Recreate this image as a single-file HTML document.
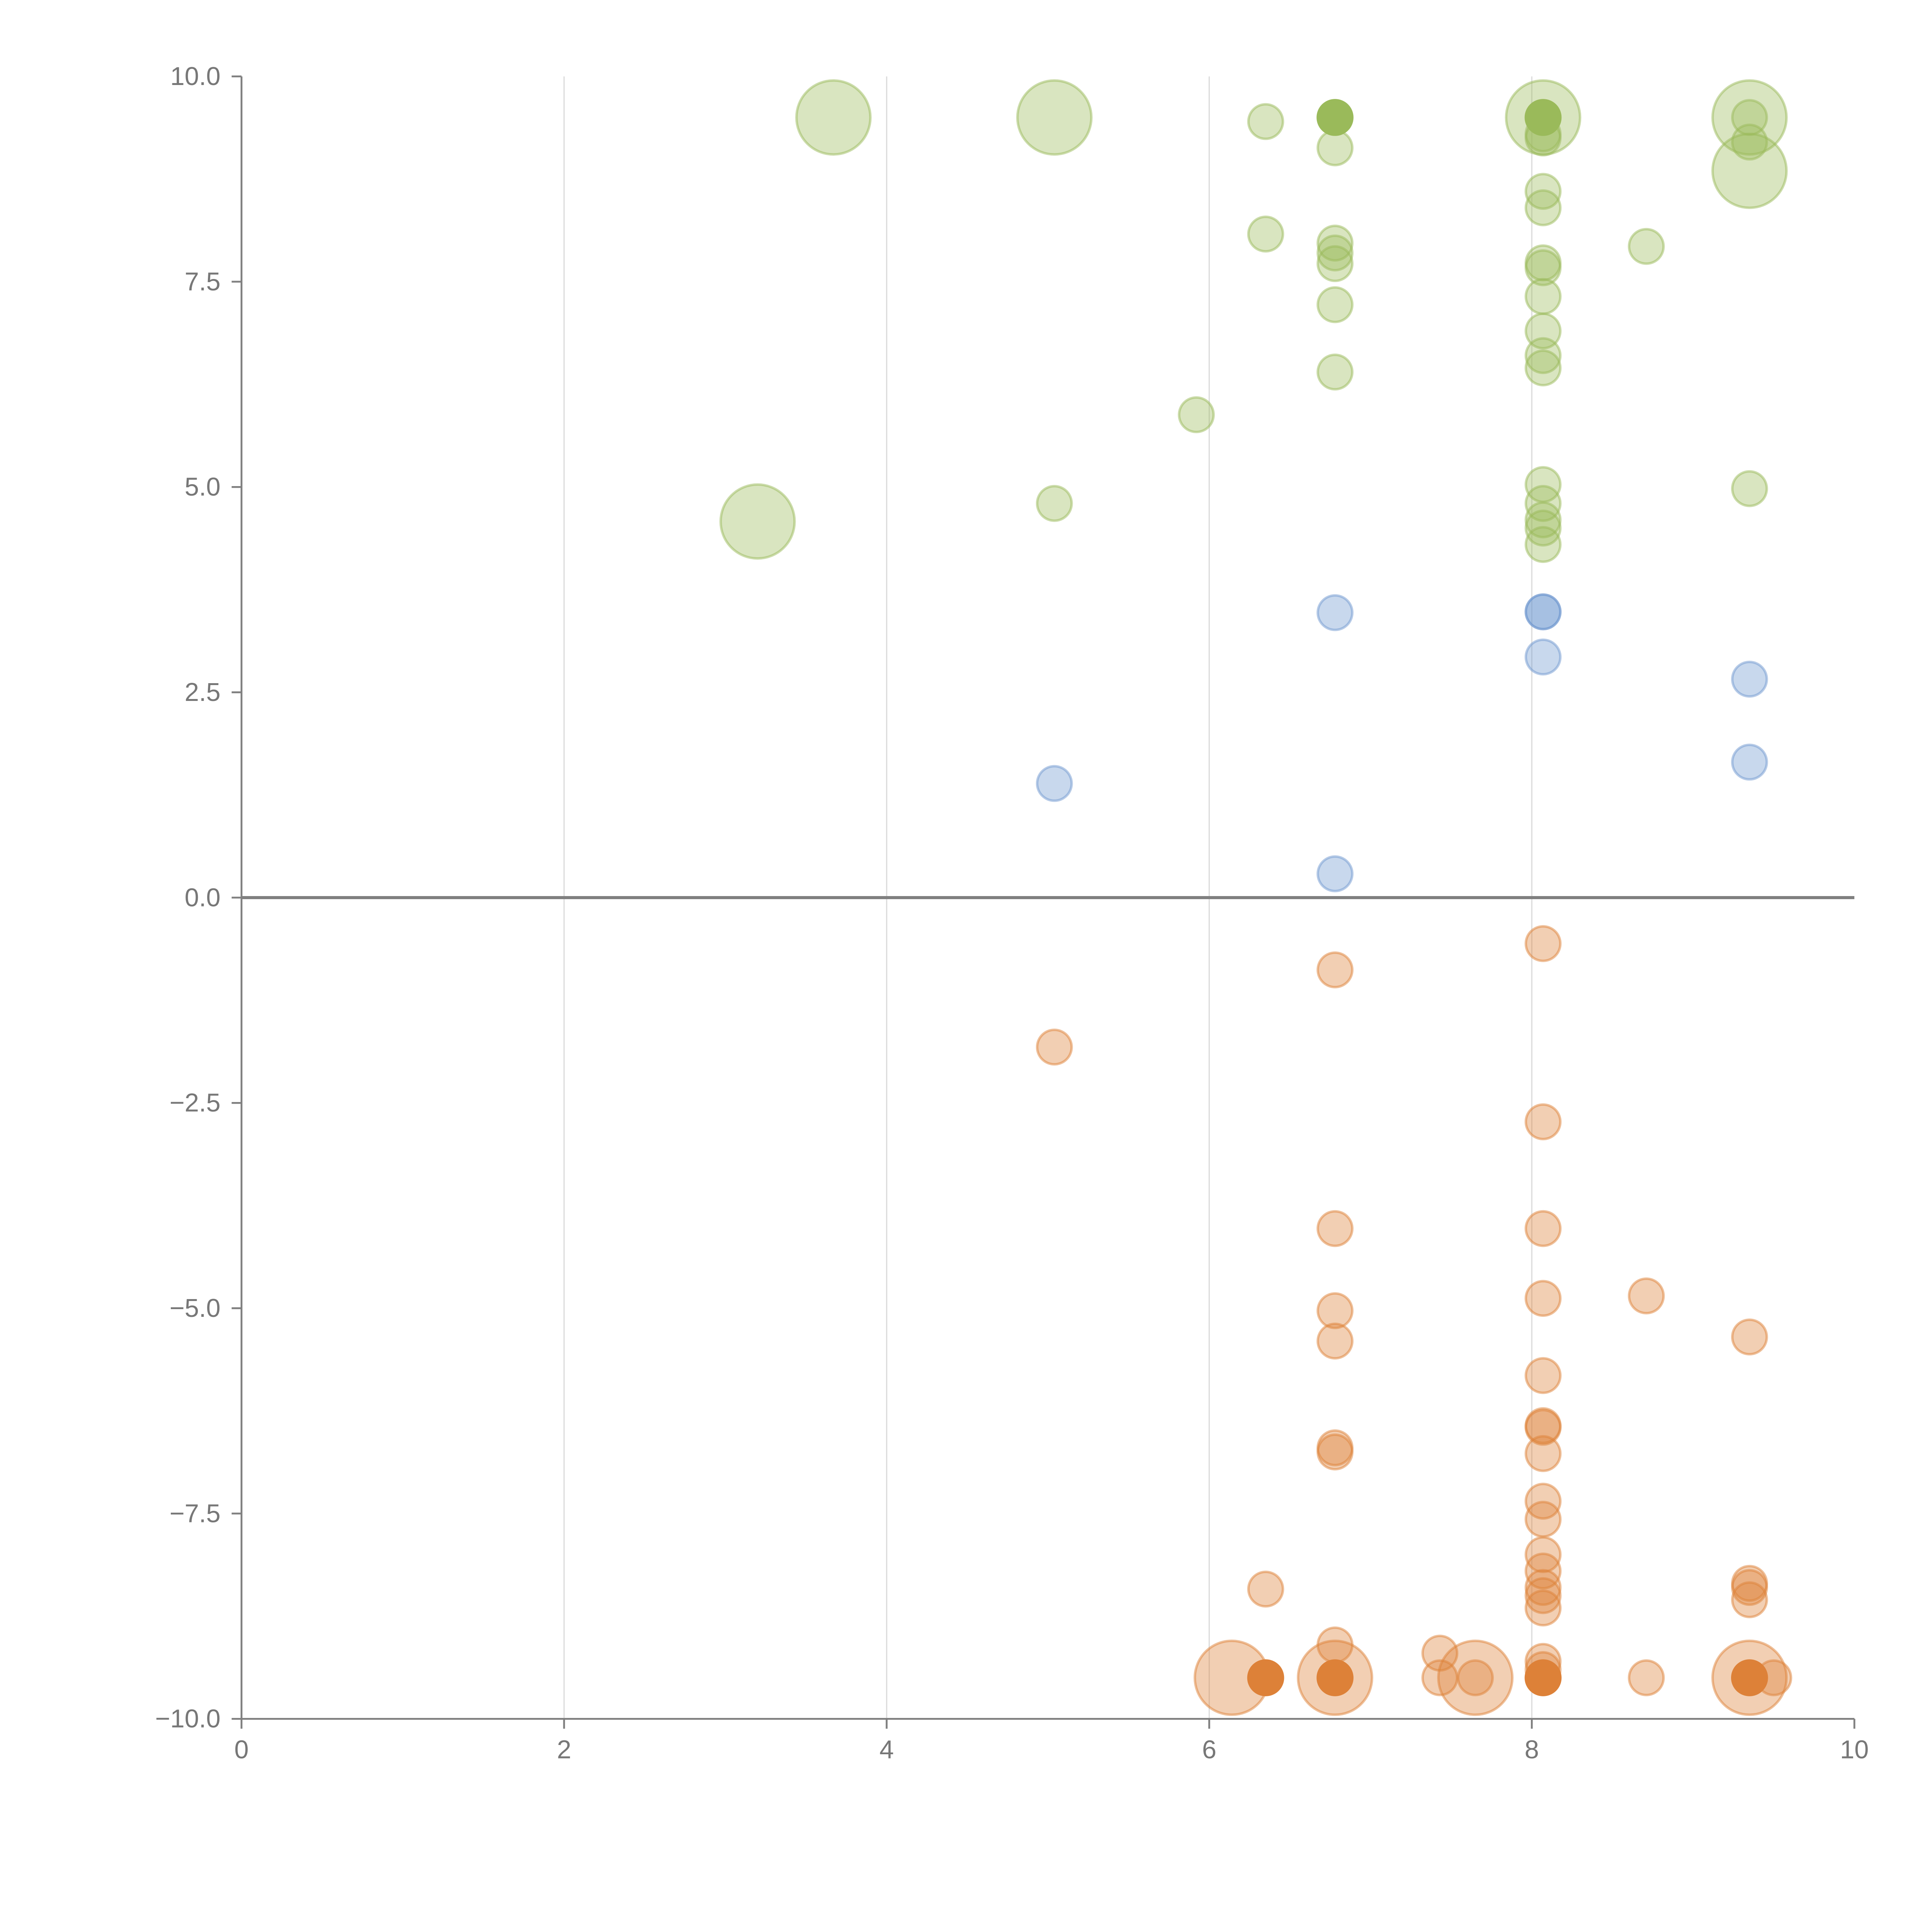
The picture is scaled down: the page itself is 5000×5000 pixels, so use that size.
<!DOCTYPE html>
<html><head><meta charset="utf-8"><style>html,body{margin:0;padding:0;background:#fff}svg{display:block}</style></head>
<body>
<svg id="chart" xmlns="http://www.w3.org/2000/svg" width="5000" height="5000" viewBox="0 0 1568 1568" font-family="Liberation Sans, sans-serif">
<rect width="1568" height="1568" fill="#fff"/>
<g id="grid"></g>
<g id="axes"></g>
<g id="marks"></g>
</svg>
<script>
const xTicks=[0,2,4,6,8,10];
const yTicks=[10,7.5,5,2.5,0,-2.5,-5,-7.5,-10];
const yTickLabels=["10.0","7.5","5.0","2.5","0.0","\u22122.5","\u22125.0","\u22127.5","\u221210.0"];
const series=["green","blue","orange"];
const greenX=[3.67,5.04,6.35,6.78,8.07,8.07,9.35,9.35,9.35,8.07,8.07,8.07,6.35,6.78,6.78,6.78,8.07,8.07,8.71,8.07,6.78,8.07,8.07,8.07,6.78,5.92,3.2,5.04,8.07,8.07,8.07,8.07,8.07,9.35,9.35,6.78,8.07];
const greenY=[9.5,9.5,9.45,9.13,9.5,9.25,9.5,9.5,9.2,8.6,8.4,9.3,8.08,7.97,7.85,7.72,7.73,7.67,7.93,7.32,7.22,6.9,6.6,6.45,6.4,5.88,4.58,4.8,5.03,4.8,4.6,4.5,4.3,4.98,8.85,9.5,9.5];
const greenS=[2,2,1,1,2,1,2,1,1,1,1,1,1,1,1,1,1,1,1,1,1,1,1,1,1,1,2,1,1,1,1,1,1,1,2,3,3];
const blueX=[6.78,8.07,8.07,8.07,9.35,9.35,5.04,6.78];
const blueY=[3.47,3.48,3.48,2.93,2.66,1.65,1.39,0.29];
const blueS=[1,1,1,1,1,1,1,1];
const orangeX=[8.07,6.78,5.04,8.07,6.78,8.07,8.07,8.71,6.78,9.35,6.78,8.07,8.07,8.07,6.78,6.78,8.07,8.07,8.07,8.07,8.07,8.07,8.07,8.07,6.35,9.35,9.35,9.35,6.78,7.43,8.07,8.07,6.14,6.78,7.43,7.65,7.65,8.71,9.35,9.5,6.35,6.78,8.07,9.35];
const orangeY=[-0.56,-0.88,-1.82,-2.73,-4.03,-4.03,-4.88,-4.85,-5.03,-5.35,-5.4,-5.82,-6.43,-6.45,-6.7,-6.75,-6.77,-7.35,-7.57,-8.0,-8.2,-8.4,-8.5,-8.65,-8.42,-8.35,-8.4,-8.55,-9.1,-9.2,-9.3,-9.4,-9.5,-9.5,-9.5,-9.5,-9.5,-9.5,-9.5,-9.5,-9.5,-9.5,-9.5,-9.5];
const orangeS=[1,1,1,1,1,1,1,1,1,1,1,1,1,1,1,1,1,1,1,1,1,1,1,1,1,1,1,1,1,1,1,1,2,2,1,2,1,1,2,1,3,3,3,3];
const NS="http://www.w3.org/2000/svg";
const X0=196,X1=1505,Y0=1395,Y1=62;
const xs=v=>X0+(v-0)/(10-0)*(X1-X0);
const ys=v=>Y0-(v+10)/(20)*(Y0-Y1);
function mk(t,a,p){const e=document.createElementNS(NS,t);for(const k in a)e.setAttribute(k,a[k]);p.appendChild(e);return e;}
const grid=document.getElementById('grid'),axes=document.getElementById('axes'),marks=document.getElementById('marks');
xTicks.forEach(t=>{
  if(t>0&&t<10){const g=mk('line',{x1:xs(t),x2:xs(t),y1:Y1,y2:Y0,stroke:'#dcdcdc','stroke-width':1},grid);
  
  }
  const tk=mk('line',{x1:xs(t),x2:xs(t),y1:Y0,y2:Y0+8,stroke:'#808080','stroke-width':1.5},axes);
  
  
  const tx=mk('text',{x:xs(t),y:Y0+32,'text-anchor':'middle','font-size':21,fill:'#777'},axes);
  tx.textContent=t;
  
  
});
yTicks.forEach((t,i)=>{
  const tk=mk('line',{x1:X0-8,x2:X0,y1:ys(t),y2:ys(t),stroke:'#808080','stroke-width':1.5},axes);
  
  
  const tx=mk('text',{x:X0-17,y:ys(t)+7,'text-anchor':'end','font-size':21,fill:'#777'},axes);
  tx.textContent=yTickLabels[i];
  
  
});
const xa=mk('line',{x1:X0,x2:X1,y1:Y0,y2:Y0,stroke:'#808080','stroke-width':1.5},axes);


const ya=mk('line',{x1:X0,x2:X0,y1:Y1,y2:Y0,stroke:'#808080','stroke-width':1.5},axes);


const zl=mk('line',{x1:X0,x2:X1,y1:ys(0),y2:ys(0),stroke:'#808080','stroke-width':2.5},axes);


const colors={green:'#9aba5a',blue:'#6f98cf',orange:'#dd8138'};
const data={green:[greenX,greenY,greenS],blue:[blueX,blueY,blueS],orange:[orangeX,orangeY,orangeS]};
series.forEach(s=>{
  const [X,Y,S]=data[s];
  X.forEach((v,i)=>{
    const dark=S[i]===3;
    const r=S[i]===2?30:14;
    const c=mk('circle',{cx:xs(v),cy:ys(Y[i]),r:r,fill:colors[s],'fill-opacity':dark?1:0.38,stroke:colors[s],'stroke-opacity':dark?1:0.5,'stroke-width':2},marks);
    
    
  });
});
</script>
</body></html>
